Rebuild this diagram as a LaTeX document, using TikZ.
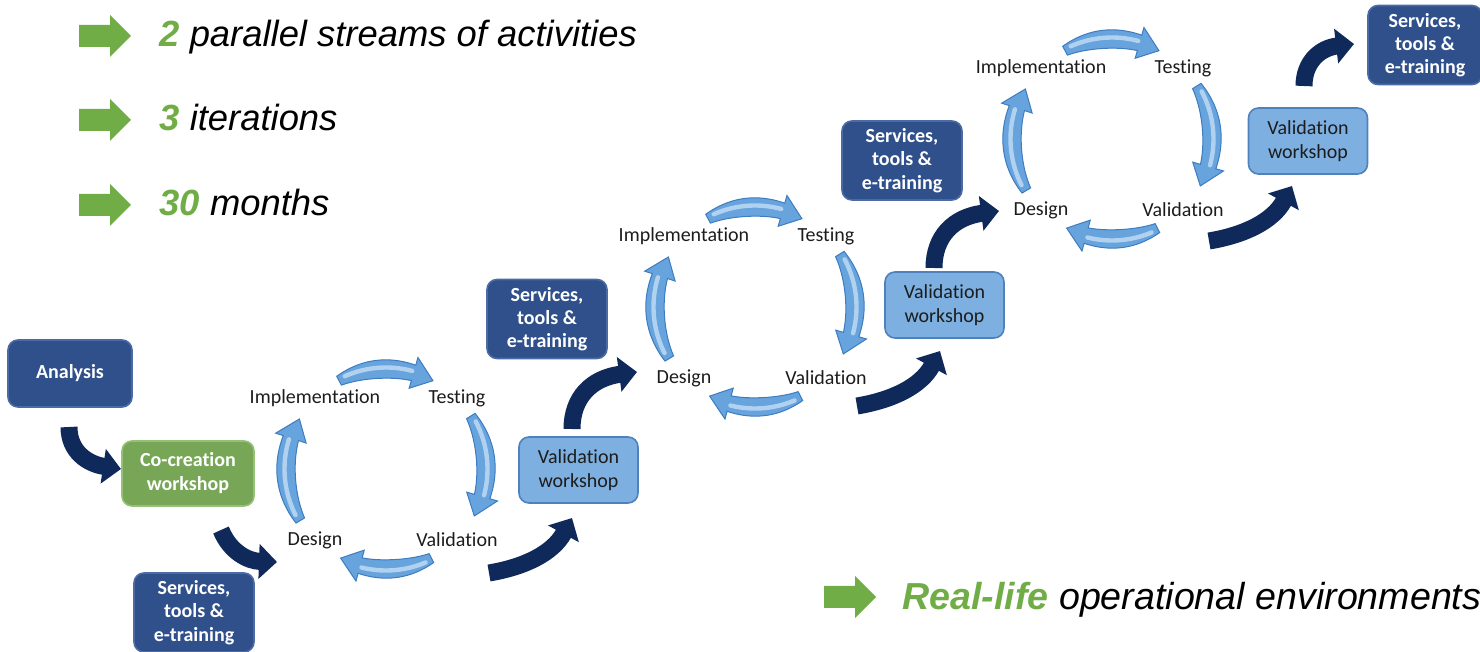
\documentclass[tikz,border=0pt]{standalone}
\usepackage{fontspec}
\setmainfont{Carlito}[Ligatures=CommonOff]
\newfontfamily\arialfont{Liberation Sans}
\usetikzlibrary{arrows.meta,calc}
\definecolor{navyarrow}{HTML}{10295B}
\definecolor{darkfill}{HTML}{30508C}
\definecolor{darkedge}{HTML}{4D6BA3}
\definecolor{vwfill}{HTML}{7DAFE0}
\definecolor{vwedge}{HTML}{4F81BD}
\definecolor{cofill}{HTML}{77A756}
\definecolor{coedge}{HTML}{94C077}
\definecolor{greenc}{HTML}{70AD47}
\definecolor{cycfill}{HTML}{67A3DC}
\definecolor{cycedge}{HTML}{3D7CC0}
\definecolor{cychigh}{HTML}{C9E1F7}
\definecolor{labeltext}{HTML}{1C1C1C}
\newcommand{\greenarrow}[1]{%
  \fill[greenc] (#1) ++(0,-11) -- ++(31,0) -- ++(0,-10) -- ++(21,21) -- ++(-21,21) -- ++(0,-10) -- ++(-31,0) -- cycle;}
% tapered curved arrow round a cycle centre (cx, cy), radius 100
\newcommand{\cycarr}[4]{% cx, cy, start angle, tip angle
  \pgfmathsetmacro\hb{#4-12}%
  \pgfmathsetmacro\sp{\hb-#3}%
  \filldraw[cycarrowstyle]
    plot[domain=#3:\hb, samples=30, variable=\t]
      ({#1+(100+5+3*(\t-#3)/\sp+2.5*sin(180*(\t-#3)/\sp))*cos(\t)},{#2+(100+5+3*(\t-#3)/\sp+2.5*sin(180*(\t-#3)/\sp))*sin(\t)})
    -- ({#1+116*cos(\hb)},{#2+116*sin(\hb)})
    -- ({#1+100*cos(#4)},{#2+100*sin(#4)})
    -- ({#1+84*cos(\hb)},{#2+84*sin(\hb)})
    -- plot[domain=\hb:#3, samples=30, variable=\t]
      ({#1+(100-5-3*(\t-#3)/\sp-2.5*sin(180*(\t-#3)/\sp))*cos(\t)},{#2+(100-5-3*(\t-#3)/\sp-2.5*sin(180*(\t-#3)/\sp))*sin(\t)})
    -- cycle;
  \draw[cychighstyle] plot[domain=#3+4:\hb-1, samples=25, variable=\t]
      ({#1+101.5*cos(\t)},{#2+101.5*sin(\t)});}
\begin{document}
\begin{tikzpicture}[x=0.5pt,y=-0.5pt,
  boxbase/.style={rectangle, rounded corners=5pt, line width=0.8pt, align=center, inner sep=2pt,
    font=\fontsize{10}{11.8}\selectfont},
  darkbox/.style={boxbase, fill=darkfill, draw=darkedge, text=white, font=\fontsize{10}{11.6}\selectfont\bfseries,
    minimum width=60pt, minimum height=39.5pt},
  vwbox/.style={boxbase, fill=vwfill, draw=vwedge, text=labeltext, minimum width=59.5pt, minimum height=33pt},
  cobox/.style={boxbase, fill=cofill, draw=coedge, text=white, font=\fontsize{10}{12}\selectfont\bfseries,
    minimum width=66pt, minimum height=32.5pt},
  cyclabel/.style={font=\fontsize{10}{12}\selectfont, text=labeltext, inner sep=1pt},
  cycarrowstyle/.style={fill=cycfill, draw=cycedge, line width=0.5pt},
  cychighstyle/.style={draw=cychigh, line width=2.2pt, line cap=round, opacity=0.75},
  navyarr/.style={draw=navyarrow, line width=8.5pt, -{Triangle[width=17pt,length=9pt]}},
  bigtext/.style={anchor=base west, inner sep=0pt, font=\arialfont\fontsize{18.2}{20}\selectfont},
]
\useasboundingbox (0,0) rectangle (1480,652);

% ---- statements ----
\coordinate (g1) at (79,36);
\coordinate (g2) at (79,120);
\coordinate (g3) at (79,205);
\coordinate (g4) at (824,597);
\greenarrow{g1}
\greenarrow{g2}
\greenarrow{g3}
\greenarrow{g4}
\node[bigtext] (t1) at (159,47) {\textcolor{greenc}{\bfseries\itshape 2} \itshape parallel streams of activities};
\node[bigtext] (t2) at (159,131) {\textcolor{greenc}{\bfseries\itshape 3} \itshape iterations};
\node[bigtext] (t3) at (159,216) {\textcolor{greenc}{\bfseries\itshape 30} \itshape months};
\node[bigtext, font=\arialfont\fontsize{18.8}{20}\selectfont] (t4) at (902,610) {\textcolor{greenc}{\bfseries\itshape Real-life} \itshape operational environments};

% ---- boxes ----
\node[darkbox, minimum width=62pt, minimum height=33.5pt] (analysis) at (70,373.5) {Analysis};
\node[cobox] (cocreation) at (188,473.5) {Co-creation\\workshop};
\node[darkbox] (serv1) at (194,612.5) {Services,\\tools \&\\e-training};
\node[vwbox] (vw1) at (578.5,470) {Validation\\workshop};
\node[darkbox] (serv2) at (547,319) {Services,\\tools \&\\e-training};
\node[vwbox] (vw2) at (944.5,305) {Validation\\workshop};
\node[darkbox] (serv3) at (902,160.5) {Services,\\tools \&\\e-training};
\node[vwbox] (vw3) at (1308,141) {Validation\\workshop};
\node[darkbox, minimum width=57pt] (serv4) at (1425,45) {Services,\\tools \&\\e-training};

% ---- cycles ----
\foreach \c/\cx/\cy in {1/386/469, 2/755/307, 3/1112/139}{
  \coordinate (c\c) at (\cx,\cy);
  \node[cyclabel] (impl\c) at ($(c\c)+(-71,-71)$) {Implementation};
  \node[cyclabel] (test\c) at ($(c\c)+(71,-71)$) {Testing};
  \node[cyclabel] (design\c) at ($(c\c)+(-71,71)$) {Design};
  \node[cyclabel] (valid\c) at ($(c\c)+(71,71)$) {Validation};
  \cycarr{\cx}{\cy}{149}{210}
  \cycarr{\cx}{\cy}{242}{298}
  \cycarr{\cx}{\cy}{328}{388}
  \cycarr{\cx}{\cy}{63}{117}
}

% ---- navy connectors ----
\coordinate (n1s) at (69,427);   \coordinate (n1e) at (121,469);
\coordinate (n2s) at (221,530);  \coordinate (n2e) at (277,562);
\coordinate (n3s) at (489,573);  \coordinate (n3e) at (572,518);
\coordinate (n4s) at (572,429);  \coordinate (n4e) at (637,372);
\coordinate (n5s) at (857,406);  \coordinate (n5e) at (940,351);
\coordinate (n6s) at (934,268);  \coordinate (n6e) at (999,211);
\coordinate (n7s) at (1209,241); \coordinate (n7e) at (1292,186);
\coordinate (n8s) at (1304,86);  \coordinate (n8e) at (1354,44);
\draw[navyarr] (n1s) .. controls (69,452) and (88,464) .. (n1e);
\draw[navyarr] (n2s) .. controls (230,552) and (248,561) .. (n2e);
\draw[navyarr] (n3s) .. controls (525,567) and (553,553) .. (n3e);
\draw[navyarr] (n4s) .. controls (572,397) and (592,378) .. (n4e);
\draw[navyarr] (n5s) .. controls (893,400) and (921,386) .. (n5e);
\draw[navyarr] (n6s) .. controls (934,236) and (954,217) .. (n6e);
\draw[navyarr] (n7s) .. controls (1245,235) and (1273,221) .. (n7e);
\draw[navyarr] (n8s) .. controls (1304,62) and (1320,48) .. (n8e);
\end{tikzpicture}
\end{document}
